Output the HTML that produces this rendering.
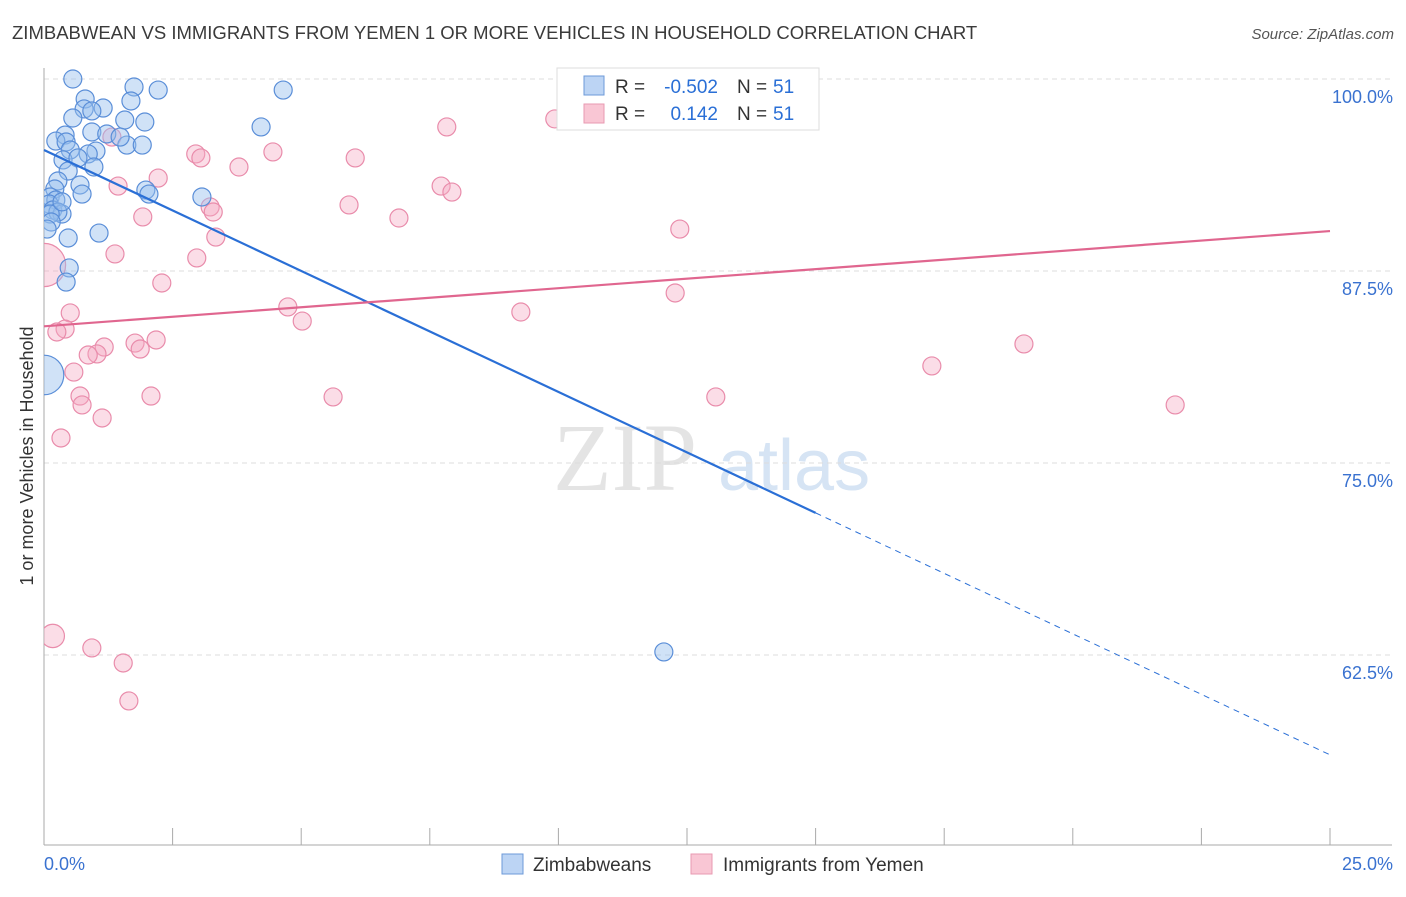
<!DOCTYPE html>
<html><head><meta charset="utf-8"><style>
body{margin:0;background:#fff;font-family:"Liberation Sans",sans-serif;}
</style></head><body>
<svg id="chart" width="1406" height="892" xmlns="http://www.w3.org/2000/svg" font-family="Liberation Sans, sans-serif">
<defs><clipPath id="plotclip"><rect x="44" y="60" width="1360" height="785"/></clipPath></defs>
<text x="12" y="39" font-size="18.5" fill="#3a3a3a">ZIMBABWEAN VS IMMIGRANTS FROM YEMEN 1 OR MORE VEHICLES IN HOUSEHOLD CORRELATION CHART</text>
<text x="1394" y="39" font-size="15" fill="#555" text-anchor="end" font-style="italic">Source: ZipAtlas.com</text>
<text transform="translate(33,456) rotate(-90)" font-size="18" fill="#333" text-anchor="middle">1 or more Vehicles in Household</text>
<g><text x="553" y="490" font-size="96" fill="#e4e4e4" font-family="Liberation Serif, serif">ZIP</text><text x="718" y="490" font-size="72" fill="#d6e4f4">atlas</text></g>
<g id="grid"></g>
<g id="axes"></g>
<g id="marks" clip-path="url(#plotclip)"></g>
<g id="lines"></g>
<g>
<rect x="557" y="68" width="262" height="62" fill="#fff" stroke="#ddd"/>
<rect x="584" y="76" width="20" height="19" fill="#bcd4f4" stroke="#6d9ad8"/>
<rect x="584" y="104" width="20" height="19" fill="#f9c6d4" stroke="#e89ab2"/>
<text x="615" y="93" font-size="19" fill="#333">R =</text>
<text x="718" y="93" font-size="19" fill="#2a6fd6" text-anchor="end">-0.502</text>
<text x="737" y="93" font-size="19" fill="#333">N =</text>
<text x="773" y="93" font-size="19" fill="#2a6fd6">51</text>
<text x="615" y="120" font-size="19" fill="#333">R =</text>
<text x="718" y="120" font-size="19" fill="#2a6fd6" text-anchor="end">0.142</text>
<text x="737" y="120" font-size="19" fill="#333">N =</text>
<text x="773" y="120" font-size="19" fill="#2a6fd6">51</text>
</g>
<g>
<rect x="502" y="854" width="21" height="20" fill="#bcd4f4" stroke="#6d9ad8"/>
<text x="533" y="871" font-size="19" fill="#333">Zimbabweans</text>
<rect x="691" y="854" width="21" height="20" fill="#f9c6d4" stroke="#e89ab2"/>
<text x="723" y="871" font-size="19" fill="#333">Immigrants from Yemen</text>
</g>
</svg>
<script>
const blueX=[.56,1.75,2.22,4.65,.80,1.69,.78,1.15,.93,.56,1.57,1.96,4.22,.93,.41,1.22,.23,.43,1.61,1.91,.51,1.01,.86,.37,.66,.97,.47,.27,.70,.21,1.98,2.04,3.07,.74,.12,.23,.10,.17,.35,.27,.12,.14,.06,1.07,.47,.49,.43,0,12.05,1.48,.35];
const blueY=[100,99.48,99.28,99.28,98.70,98.57,98.05,98.11,97.92,97.46,97.33,97.20,96.88,96.55,96.35,96.42,95.96,95.90,95.70,95.70,95.38,95.31,95.12,94.73,94.86,94.27,94.01,93.36,93.10,92.84,92.77,92.51,92.32,92.51,92.32,92.12,91.86,91.47,91.21,91.34,91.21,90.69,90.23,89.97,89.65,87.70,86.78,80.73,62.70,96.22,92.0];
const blueSize=[1,1,1,1,1,1,1,1,1,1,1,1,1,1,1,1,1,1,1,1,1,1,1,1,1,1,1,1,1,1,1,1,1,1,1,1,1,1,1,1,1,1,1,1,1,1,1,2.2,1,1,1];
const pinkX=[0,.17,9.93,7.83,1.32,2.95,3.05,4.45,6.05,3.79,2.22,1.44,7.72,7.93,5.93,3.23,3.29,1.92,6.90,3.34,12.36,1.38,2.97,2.29,12.27,4.74,5.02,9.27,.51,.41,.25,2.18,1.77,1.17,1.87,1.03,.86,19.05,17.26,.58,.70,2.08,5.62,13.06,.74,21.99,1.13,.33,.93,1.54,1.65];
const pinkY=[87.89,63.74,97.40,96.88,96.22,95.12,94.86,95.25,94.86,94.27,93.55,93.03,93.03,92.64,91.80,91.67,91.34,91.02,90.95,89.71,90.23,88.61,88.35,86.72,86.07,85.16,84.24,84.83,84.77,83.72,83.53,83.01,82.81,82.55,82.42,82.10,82.03,82.75,81.32,80.92,79.36,79.36,79.30,79.30,78.78,78.78,77.93,76.63,62.96,61.98,59.51];
const pinkSize=[2.4,1.3,1,1,1,1,1,1,1,1,1,1,1,1,1,1,1,1,1,1,1,1,1,1,1,1,1,1,1,1,1,1,1,1,1,1,1,1,1,1,1,1,1,1,1,1,1,1,1,1,1];
const yTicks=[100,87.5,75,62.5];
const yTickLabels=["100.0%","87.5%","75.0%","62.5%"];
const xTicks=[0,2.5,5,7.5,10,12.5,15,17.5,20,22.5,25];
const blueTrend=[95.38,56.0];
const pinkTrend=[83.9,90.1];
const NS="http://www.w3.org/2000/svg";
const X=v=>44+v/25*1286;
const Y=v=>79+(100-v)*15.36;
function mk(tag,attrs,parent){const e=document.createElementNS(NS,tag);for(const k in attrs)e.setAttribute(k,attrs[k]);parent.appendChild(e);return e;}
const grid=document.getElementById('grid'),axes=document.getElementById('axes'),marks=document.getElementById('marks'),lines=document.getElementById('lines');
yTicks.forEach((t,i)=>{
  const l=mk('line',{x1:44,x2:1392,y1:Y(t),y2:Y(t),stroke:'#ddd','stroke-dasharray':'5,4'},grid);
  
  
  const tx=mk('text',{x:1393,y:Y(t)+24,'font-size':18,fill:'#3a72d0','text-anchor':'end'},axes);
  tx.textContent=yTickLabels[i];
  
  
});
const ax=mk('line',{x1:44,x2:44,y1:68,y2:845,stroke:'#aaa'},axes);


const bx=mk('line',{x1:44,x2:1392,y1:845,y2:845,stroke:'#aaa'},axes);


xTicks.forEach(t=>{
  const l=mk('line',{x1:X(t),x2:X(t),y1:828,y2:845,stroke:'#aaa'},axes);
  
  
});
const x0=mk('text',{x:44,y:870,'font-size':18,fill:'#3a72d0'},axes);x0.textContent='0.0%';


const x1=mk('text',{x:1393,y:870,'font-size':18,fill:'#3a72d0','text-anchor':'end'},axes);x1.textContent='25.0%';


function dots(xs,ys,ss,fill,stroke,name){
  xs.forEach((v,i)=>{
    const c=mk('circle',{cx:X(v),cy:Y(ys[i]),r:9*ss[i],fill:fill,stroke:stroke,'stroke-width':1.2},marks);
    
    
  });
}
dots(pinkX,pinkY,pinkSize,'rgba(246,170,195,0.4)','#e98cab','yemen-point');
dots(blueX,blueY,blueSize,'rgba(150,190,238,0.45)','#5a8ed8','zimbabwean-point');
const bs=blueTrend[0]+(blueTrend[1]-blueTrend[0])*(15/25);
const t1=mk('line',{x1:X(0),y1:Y(blueTrend[0]),x2:X(15),y2:Y(bs),stroke:'#2a6fd6','stroke-width':2.2},lines);


const t2=mk('line',{x1:X(15),y1:Y(bs),x2:X(25),y2:Y(blueTrend[1]),stroke:'#2a6fd6','stroke-width':1,'stroke-dasharray':'6,5'},lines);


const t3=mk('line',{x1:X(0),y1:Y(pinkTrend[0]),x2:X(25),y2:Y(pinkTrend[1]),stroke:'#e0668f','stroke-width':2.2},lines);


</script>
</body></html>
